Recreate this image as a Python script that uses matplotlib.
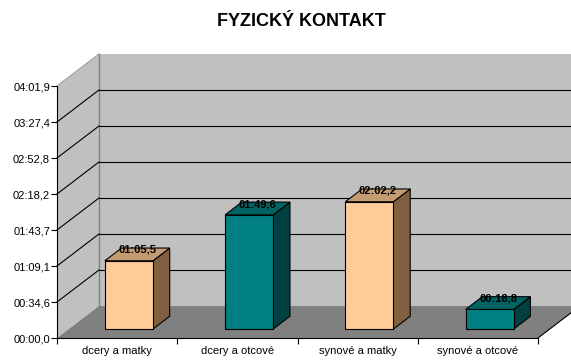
import matplotlib
matplotlib.use("Agg")
import matplotlib.pyplot as plt
from matplotlib.patches import Polygon
from matplotlib.ticker import FuncFormatter

plt.rcParams["font.family"] = ["Liberation Sans", "DejaVu Sans"]

# data: durations in seconds
categories = ["dcery a matky", "dcery a otcové", "synové a matky", "synové a otcové"]
durations = [65.5, 109.6, 122.2, 18.8]
front_colors = ["#FFCC99", "#008080", "#FFCC99", "#008080"]
top_colors = ["#C49C72", "#006464", "#C49C72", "#006464"]
side_colors = ["#806040", "#004040", "#806040", "#004040"]

title = "FYZICKÝ KONTAKT"
tick_step = 34.56   # 0.0004 day
n_ticks = 7
y_max = tick_step * n_ticks

# oblique offset of the back wall (category units, seconds)
DX = 0.349
DY = 30.7
# bar geometry
bar_w = 0.4
z0, z1 = 0.28, 0.68


def fmt_time(sec, pos=None):
    m = int(sec // 60)
    s = sec - m * 60
    txt = "%02d:%04.1f" % (m, round(s, 1))
    return txt.replace(".", ",")


fig = plt.figure(figsize=(5.71, 3.6), dpi=100)
ax = fig.add_axes([57 / 571, 22 / 360, 481 / 571, 252 / 360])
ax.set_xlim(0, 4)
ax.set_ylim(0, y_max)
ax.patch.set_visible(False)


def poly(pts, fc, ec="none", lw=0.8, z=1):
    p = Polygon(pts, closed=True, facecolor=fc, edgecolor=ec, linewidth=lw,
                zorder=z, clip_on=False)
    ax.add_patch(p)


# back wall, left wall and floor
poly([(DX, DY), (4 + DX + 1, DY), (4 + DX + 1, y_max + DY), (DX, y_max + DY)], "#C0C0C0", z=0)
poly([(0, 0), (0, y_max), (DX, y_max + DY), (DX, DY)], "#C0C0C0", z=0)
ax.plot([0, DX], [y_max, y_max + DY], color="#A0A0A0", lw=0.8, zorder=0.5, clip_on=False)
poly([(0, 0), (4, 0), (4 + DX, DY), (DX, DY)], "#808080", z=0.6)
ax.plot([4, 4 + DX], [0, DY], color="black", lw=0.8, zorder=0.7, clip_on=False)
ax.plot([DX, DX], [DY, y_max + DY], color="#808080", lw=1.0, zorder=0.7, clip_on=False)

# gridlines on walls
for k in range(1, n_ticks):
    t = k * tick_step
    ax.plot([0, DX], [t, t + DY], color="black", lw=0.8, zorder=0.8, clip_on=False)
    ax.plot([DX, 4 + DX + 1], [t + DY, t + DY], color="black", lw=0.8, zorder=0.8, clip_on=False)

# 3D columns
for i, v in enumerate(durations):
    x0 = i + 0.5 - bar_w / 2
    x1 = x0 + bar_w
    a0, b0 = z0 * DX, z0 * DY
    a1, b1 = z1 * DX, z1 * DY
    poly([(x1 + a0, b0), (x1 + a1, b1), (x1 + a1, v + b1), (x1 + a0, v + b0)],
         side_colors[i], ec="black", z=2)
    poly([(x0 + a0, v + b0), (x1 + a0, v + b0), (x1 + a1, v + b1), (x0 + a1, v + b1)],
         top_colors[i], ec="black", z=2)
    poly([(x0 + a0, b0), (x1 + a0, b0), (x1 + a0, v + b0), (x0 + a0, v + b0)],
         front_colors[i], ec="black", z=2)
    ax.text(i + 0.5 + (z0 + z1) / 2 * DX, v + 0.62 * DY, fmt_time(v),
            ha="center", va="center", fontsize=8, fontweight="bold", zorder=3)

# axes
for side in ["top", "right"]:
    ax.spines[side].set_visible(False)
for side in ["left", "bottom"]:
    ax.spines[side].set_linewidth(0.8)
    ax.spines[side].set_zorder(4)
ax.set_yticks([k * tick_step for k in range(n_ticks + 1)])
ax.yaxis.set_major_formatter(FuncFormatter(fmt_time))
ax.tick_params(axis="y", direction="out", length=4, width=0.8, labelsize=8, pad=1)
ax.set_xticks([0, 1, 2, 3, 4])
ax.set_xticklabels([])
ax.set_xticks([0.5, 1.5, 2.5, 3.5], minor=True)
ax.set_xticklabels(categories, minor=True)
ax.tick_params(axis="x", which="major", direction="out", length=4, width=0.8)
ax.tick_params(axis="x", which="minor", length=0, labelsize=8, pad=6)

fig.text(301 / 571, 1 - 21 / 360, title, ha="center", va="center",
         fontsize=13, fontweight="bold")

fig.savefig("out.png", dpi=100)
